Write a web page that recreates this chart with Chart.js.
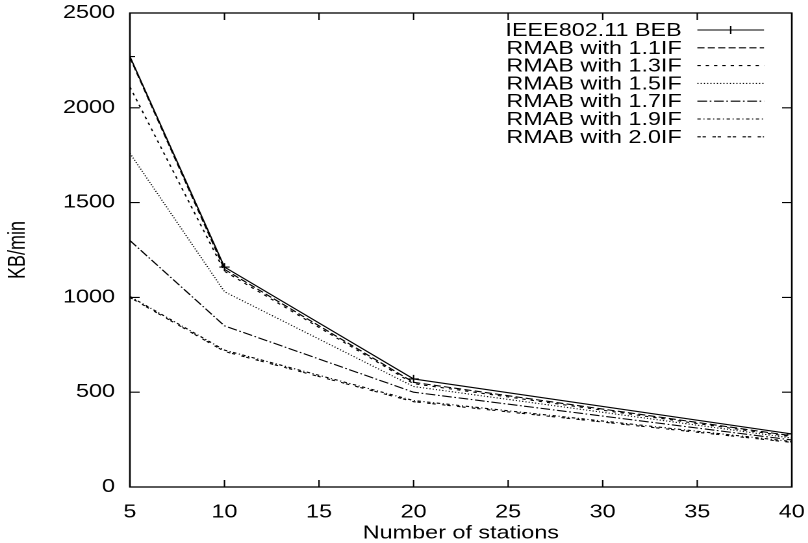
<!DOCTYPE html>
<html>
<head>
<meta charset="utf-8">
<script src="https://cdn.jsdelivr.net/npm/chart.js@4/dist/chart.umd.min.js"></script>
<style>
  html, body { margin: 0; padding: 0; background: #fff; overflow: hidden; }
  /* the chart is laid out narrow and widened, giving the wide lettering of the original plot */
  #wrap { position: absolute; left: 0; top: 0; width: 622px; height: 543px;
          transform: scaleX(1.2991); transform-origin: 0 0; }
</style>
</head>
<body>
<div id="wrap"><canvas id="c" width="622" height="543"></canvas></div>
<script>
// Throughput against number of stations
const stations = [5, 10, 20, 40];

const ieeeBeb = [2270, 1160, 570, 280];
const rmab11  = [2265, 1148, 552, 270];
const rmab13  = [2110, 1138, 545, 265];
const rmab15  = [1760, 1030, 530, 258];
const rmab17  = [1300,  850, 500, 248];
const rmab19  = [1005,  722, 456, 240];
const rmab20  = [1000,  715, 450, 235];

const seriesNames = [
  'IEEE802.11 BEB',
  'RMAB with 1.1IF',
  'RMAB with 1.3IF',
  'RMAB with 1.5IF',
  'RMAB with 1.7IF',
  'RMAB with 1.9IF',
  'RMAB with 2.0IF'
];
const seriesValues = [ieeeBeb, rmab11, rmab13, rmab15, rmab17, rmab19, rmab20];

const xTitle = 'Number of stations';
const yTitle = 'KB/min';
const xMin = 5, xMax = 40, xStep = 5;
const yMin = 0, yMax = 2500, yStep = 500;

// gnuplot-like line types
const dashes = [
  [],
  [5.5, 2.5],
  [2.6, 3.8],
  [0.9, 1.6],
  [7.5, 2, 1.3, 2],
  [2.6, 2, 0.9, 2],
  [2.6, 1.4, 2.6, 5]
];

const FONT = { family: '"Liberation Sans", Arial, Helvetica, sans-serif', size: 18 };

const datasets = seriesNames.map((name, i) => ({
  label: name,
  data: stations.map((s, k) => ({ x: s, y: seriesValues[i][k] })),
  borderColor: '#000',
  backgroundColor: '#000',
  borderWidth: 1.1,
  borderDash: dashes[i],
  tension: 0,
  fill: false,
  pointStyle: 'cross',
  pointRadius: i === 0 ? 4 : 0,
  pointBorderWidth: 1.1,
  pointBorderColor: '#000'
}));

// border box with inward ticks on all four sides
const framePlugin = {
  id: 'frame',
  beforeDatasetsDraw(chart) {
    const { ctx, chartArea: a, scales: { x, y } } = chart;
    ctx.save();
    ctx.strokeStyle = '#000';
    ctx.setLineDash([]);
    ctx.lineWidth = 1.1;
    ctx.beginPath();
    x.ticks.forEach(t => {
      const px = x.getPixelForValue(t.value);
      ctx.moveTo(px, a.bottom); ctx.lineTo(px, a.bottom - 7);
      ctx.moveTo(px, a.top);    ctx.lineTo(px, a.top + 7);
    });
    y.ticks.forEach(t => {
      const py = y.getPixelForValue(t.value);
      ctx.moveTo(a.left, py);  ctx.lineTo(a.left + 7.5, py);
      ctx.moveTo(a.right, py); ctx.lineTo(a.right - 7.5, py);
    });
    ctx.stroke();
    ctx.lineWidth = 1.3;
    ctx.strokeRect(a.left, a.top, a.right - a.left, a.bottom - a.top);
    ctx.restore();
  }
};

// key in the upper right corner: right-aligned names followed by a line sample
const keyPlugin = {
  id: 'key',
  afterDatasetsDraw(chart) {
    const { ctx } = chart;
    const textRight = 524.8, lineStart = 536.8, lineEnd = 588.1;
    const rowTop = 30, rowStep = 17.8;
    ctx.save();
    ctx.font = `${FONT.size}px ${FONT.family}`;
    ctx.fillStyle = '#000';
    ctx.textAlign = 'right';
    ctx.textBaseline = 'middle';
    chart.data.datasets.forEach((ds, i) => {
      const yy = rowTop + i * rowStep;
      ctx.fillText(ds.label, textRight, yy + 1);
      ctx.strokeStyle = ds.borderColor;
      ctx.lineWidth = ds.borderWidth;
      ctx.setLineDash(ds.borderDash || []);
      ctx.beginPath();
      ctx.moveTo(lineStart, yy);
      ctx.lineTo(lineEnd, yy);
      ctx.stroke();
      if (ds.pointRadius > 0) {
        ctx.setLineDash([]);
        Chart.helpers.drawPoint(ctx, {
          pointStyle: ds.pointStyle, radius: ds.pointRadius, borderWidth: ds.pointBorderWidth
        }, (lineStart + lineEnd) / 2, yy);
      }
    });
    ctx.restore();
  }
};

// the plot box is placed by the layout padding alone, not by label overhang
function noOverhang(scale) {
  scale.paddingTop = 0;
  scale.paddingBottom = 0;
  scale.paddingLeft = 0;
  scale.paddingRight = 0;
}

new Chart(document.getElementById('c'), {
  type: 'line',
  data: { datasets },
  plugins: [framePlugin, keyPlugin],
  options: {
    responsive: false,
    devicePixelRatio: 2,
    animation: false,
    events: [],
    layout: { padding: { top: 13, right: 12.5, left: 0, bottom: 0 } },
    plugins: { legend: { display: false }, tooltip: { enabled: false } },
    scales: {
      x: {
        type: 'linear',
        min: xMin, max: xMax,
        grid: { display: false, drawTicks: false },
        border: { display: false },
        ticks: { stepSize: xStep, color: '#000', font: FONT, padding: 14.5, maxRotation: 0 },
        title: { display: true, text: xTitle, color: '#000', font: FONT, padding: { top: 0, bottom: -1.5 } },
        afterFit(scale) { scale.height = 56; noOverhang(scale); }
      },
      y: {
        min: yMin, max: yMax,
        grid: { display: false, drawTicks: false },
        border: { display: false },
        ticks: { stepSize: yStep, color: '#000', font: FONT, padding: 11.5,
                 callback: v => String(v) },
        title: { display: true, text: yTitle, color: '#000', font: FONT, padding: { top: 3, bottom: 0 } },
        afterFit(scale) { scale.width = 100; noOverhang(scale); }
      }
    }
  }
});
</script>
</body>
</html>
